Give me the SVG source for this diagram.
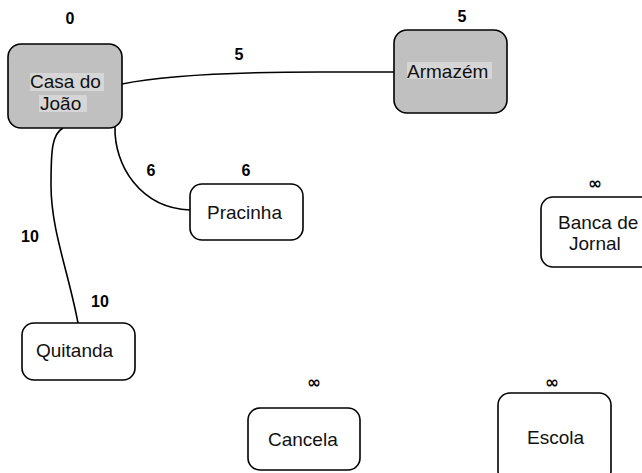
<svg xmlns="http://www.w3.org/2000/svg" width="642" height="473" viewBox="0 0 642 473">
<style>
.box{fill:#fff;stroke:#000;stroke-width:1.6}
.vis{fill:#c0c0c0}
.hl{fill:#d6d6d6}
.t{font-family:"Liberation Sans",Arial,sans-serif;font-size:19px;fill:#111}
.lb{font-family:"Liberation Sans",Arial,sans-serif;font-size:16px;font-weight:bold;fill:#000}
.inf{font-family:"DejaVu Sans",sans-serif;font-size:17px;font-weight:bold;fill:#000}
.e{fill:none;stroke:#000;stroke-width:1.6}
</style>
<rect width="642" height="473" fill="#fff"/>
<g id="connectors">
<path class="e" d="M122,84 C160,76 230,72 320,72 L394,72"/>
<path class="e" d="M115,127 C114,165 140,208 190,210"/>
<path class="e" d="M63,128 C52,134 51,150 51,185 C51,230 68,270 78,323"/>
</g>
<g id="edge-labels">
<text class="lb" x="239" y="60" text-anchor="middle">5</text>
<text class="lb" x="151" y="176" text-anchor="middle">6</text>
<text class="lb" x="30" y="242" text-anchor="middle">10</text>
<text class="lb" x="100" y="307" text-anchor="middle">10</text>
</g>
<g id="casa">
<rect class="box vis" x="8" y="44" width="114" height="84" rx="13"/>
<rect class="hl" x="30" y="73" width="74" height="18"/>
<rect class="hl" x="39" y="95" width="48" height="17"/>
<text class="t" x="30" y="88">Casa do</text>
<text class="t" x="40" y="110">João</text>
<text class="lb" x="70" y="24" text-anchor="middle">0</text>
</g>
<g id="armazem">
<rect class="box vis" x="394" y="30" width="113" height="83" rx="13"/>
<rect class="hl" x="407" y="62" width="85" height="17"/>
<text class="t" x="407" y="78">Armazém</text>
<text class="lb" x="462" y="22" text-anchor="middle">5</text>
</g>
<g id="pracinha">
<rect class="box" x="190" y="184" width="113" height="56" rx="12"/>
<text class="t" x="207" y="219">Pracinha</text>
<text class="lb" x="246" y="176" text-anchor="middle">6</text>
</g>
<g id="banca">
<rect class="box" x="541" y="197" width="113" height="70" rx="12"/>
<text class="t" x="558" y="229">Banca de</text>
<text class="t" x="569" y="250">Jornal</text>
<text class="inf" x="595" y="189" text-anchor="middle">∞</text>
</g>
<g id="quitanda">
<rect class="box" x="22" y="323" width="113" height="57" rx="12"/>
<text class="t" x="36" y="357">Quitanda</text>
</g>
<g id="cancela">
<rect class="box" x="248" y="408" width="112" height="62" rx="12"/>
<text class="t" x="268" y="446">Cancela</text>
<text class="inf" x="314" y="388" text-anchor="middle">∞</text>
</g>
<g id="escola">
<rect class="box" x="498" y="393" width="113" height="90" rx="12"/>
<text class="t" x="527" y="444">Escola</text>
<text class="inf" x="552" y="388" text-anchor="middle">∞</text>
</g>
</svg>
